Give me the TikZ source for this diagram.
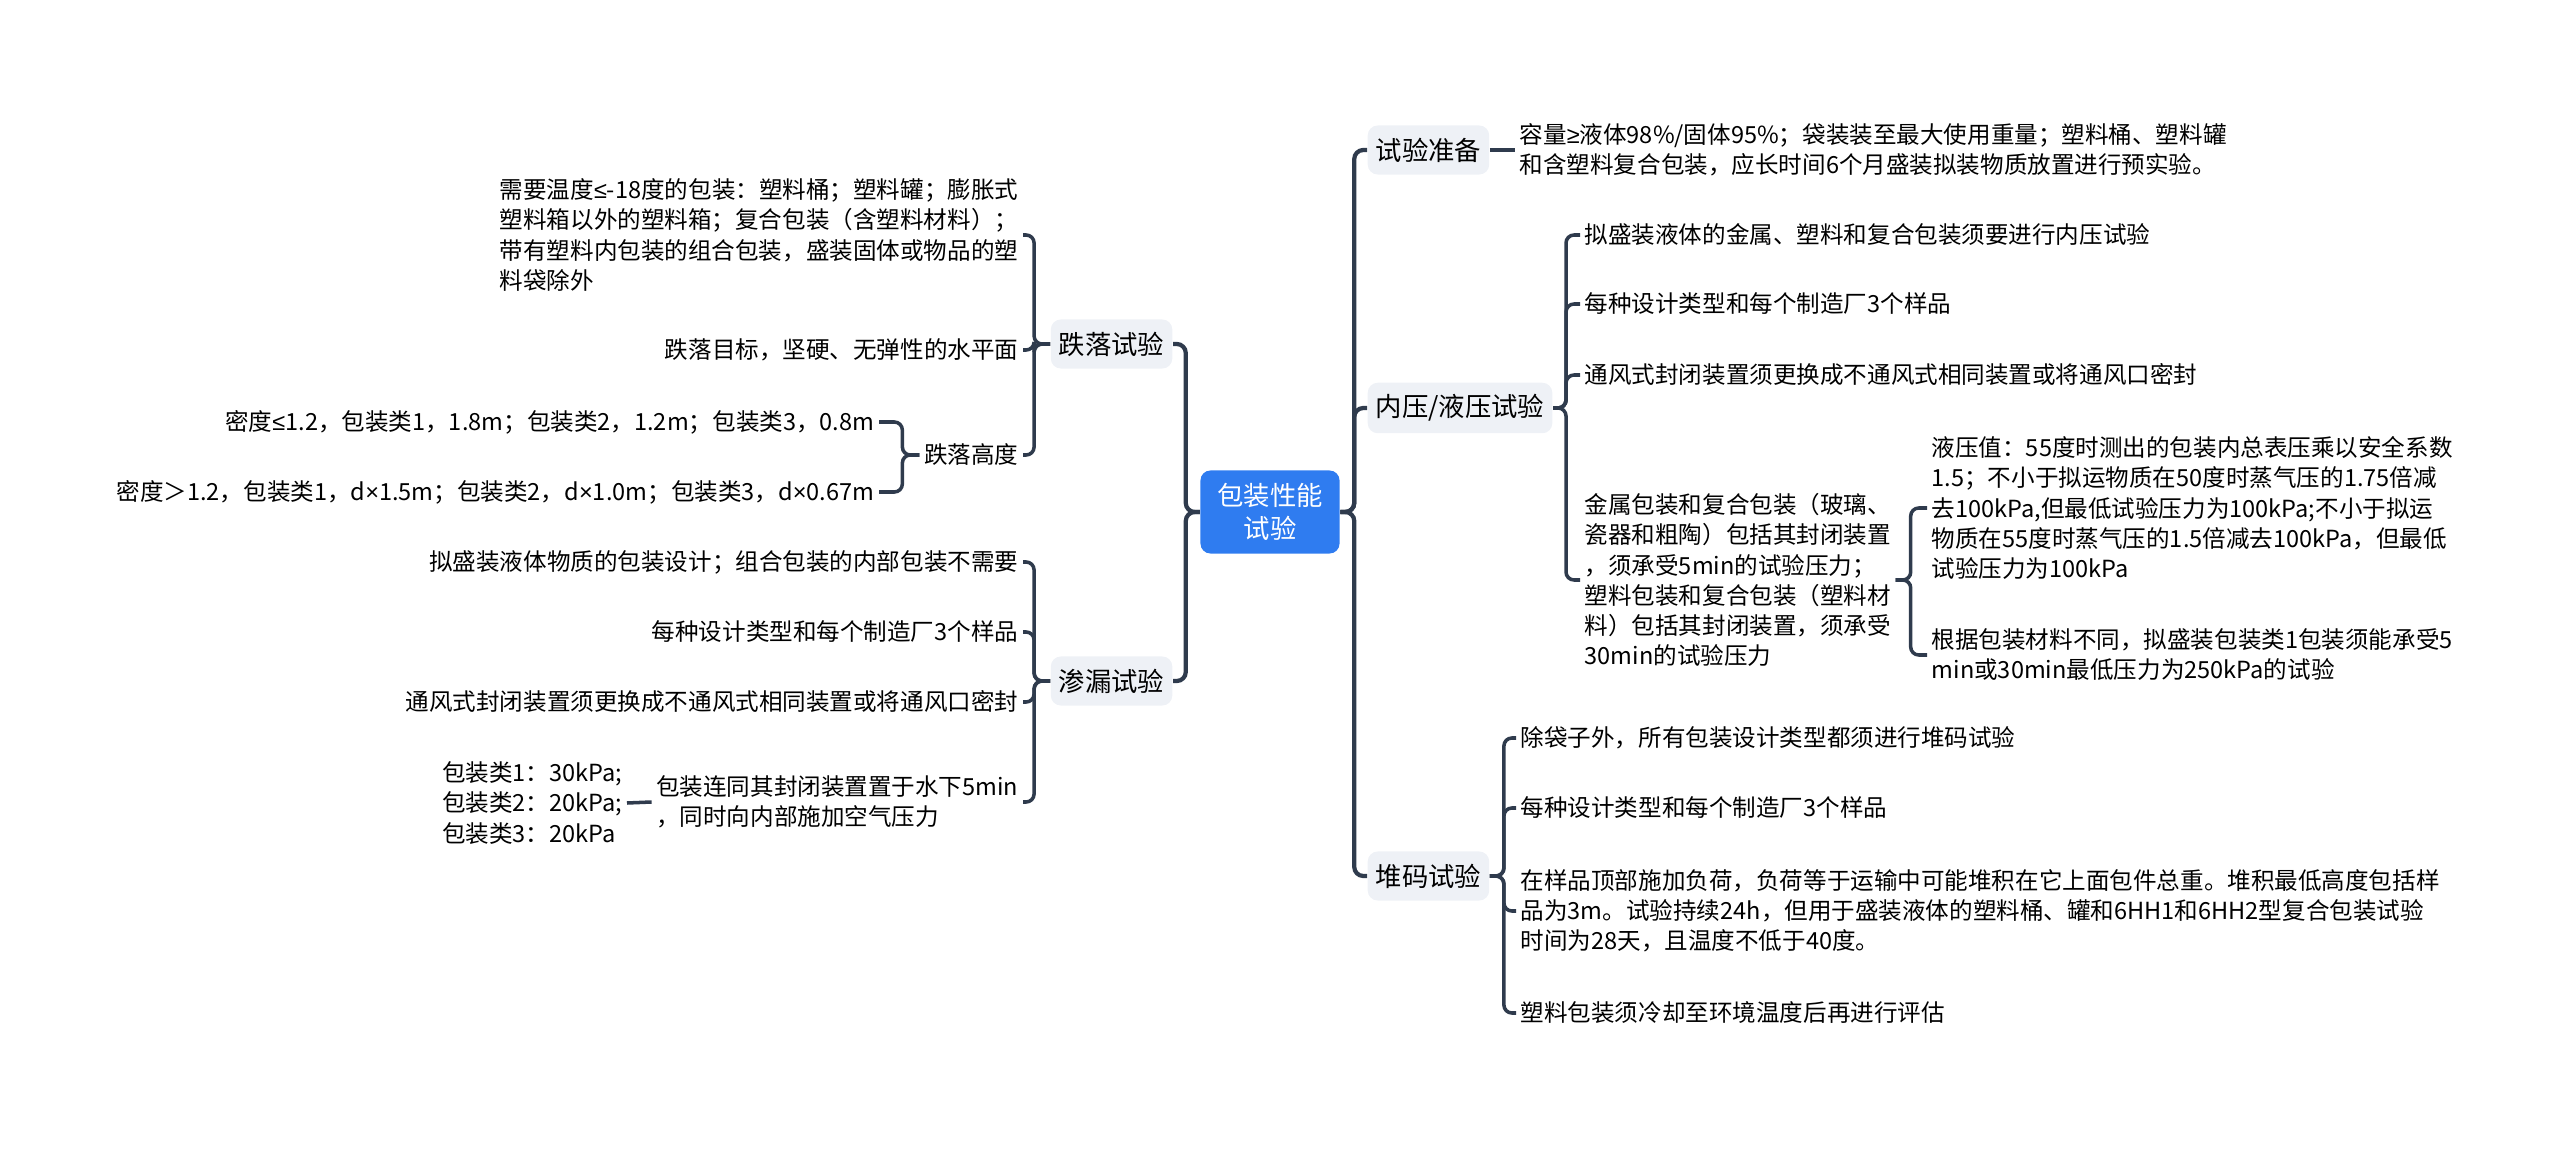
\documentclass[tikz,border=0pt]{standalone}
\usepackage{fontspec}
\setmainfont{Noto Sans CJK SC}
\newfontfamily\symfont{Liberation Sans}
\newcommand{\nsym}[1]{{\symfont #1}}
\usepackage{xcolor}
\usetikzlibrary{positioning}

\definecolor{linecol}{HTML}{2F3B4D}
\definecolor{topicfill}{HTML}{EEF1F6}
\definecolor{rootblue}{HTML}{2F7CF0}

\tikzset{
  root/.style={fill=rootblue, text=white, rounded corners=0.1cm, minimum width=1.39cm, minimum height=0.83cm, align=center, font=\fontsize{7.5pt}{9.4pt}\selectfont},
  topic/.style={fill=topicfill, rounded corners=0.1cm, minimum height=0.49cm, inner xsep=0.08cm, font=\fontsize{7.5pt}{9.4pt}\selectfont},
  leaf/.style={inner xsep=0.04cm, inner ysep=0pt, align=left, font=\fontsize{6.7pt}{8.55pt}\selectfont},
  trunk/.style={draw=linecol, line width=1.2pt, rounded corners=0.09cm},
  link/.style={draw=linecol, line width=1pt, rounded corners=0.08cm},
}

\begin{document}
\begin{tikzpicture}[x=0.01cm, y=-0.01cm]
\useasboundingbox (0,0) rectangle (2560,1149);

\node[root] (root) at (1270,512) {包装性能\\试验};

\node[topic, anchor=west] (prep) at (1367,150) {试验准备};
\node[topic, anchor=west] (press) at (1367,408) {内压/液压试验};
\node[topic, anchor=west] (stack) at (1367,876) {堆码试验};
\node[topic, anchor=east] (drop) at (1173,344) {跌落试验};
\node[topic, anchor=east] (leak) at (1173,681) {渗漏试验};

\node[leaf, anchor=west] (prepT) at (1515,150) {容量\nsym{≥}液体98\%/固体95\%；袋装装至最大使用重量；塑料桶、塑料罐\\和含塑料复合包装，应长时间6个月盛装拟装物质放置进行预实验。};

\node[leaf, anchor=west] (pr1) at (1580,235) {拟盛装液体的金属、塑料和复合包装须要进行内压试验};
\node[leaf, anchor=west] (pr2) at (1580,304) {每种设计类型和每个制造厂3个样品};
\node[leaf, anchor=west] (pr3) at (1580,375) {通风式封闭装置须更换成不通风式相同装置或将通风口密封};
\node[leaf, anchor=west] (pr4) at (1580,580) {金属包装和复合包装（玻璃、\\瓷器和粗陶）包括其封闭装置\\，须承受5min的试验压力；\\塑料包装和复合包装（塑料材\\料）包括其封闭装置，须承受\\30min的试验压力};
\node[leaf, anchor=west] (pr4a) at (1927,508) {液压值：55度时测出的包装内总表压乘以安全系数\\1.5；不小于拟运物质在50度时蒸气压的1.75倍减\\去100kPa,但最低试验压力为100kPa;不小于拟运\\物质在55度时蒸气压的1.5倍减去100kPa，但最低\\试验压力为100kPa};
\node[leaf, anchor=west] (pr4b) at (1927,655) {根据包装材料不同，拟盛装包装类1包装须能承受5\\min或30min最低压力为250kPa的试验};

\node[leaf, anchor=west] (st1) at (1516,738) {除袋子外，所有包装设计类型都须进行堆码试验};
\node[leaf, anchor=west] (st2) at (1516,808) {每种设计类型和每个制造厂3个样品};
\node[leaf, anchor=west] (st3) at (1516,911) {在样品顶部施加负荷，负荷等于运输中可能堆积在它上面包件总重。堆积最低高度包括样\\品为3m。试验持续24h，但用于盛装液体的塑料桶、罐和6HH1和6HH2型复合包装试验\\时间为28天，且温度不低于40度。};
\node[leaf, anchor=west] (st4) at (1516,1013) {塑料包装须冷却至环境温度后再进行评估};

\node[leaf, anchor=east] (dr1) at (1023,235) {需要温度\nsym{≤}-18度的包装：塑料桶；塑料罐；膨胀式\\塑料箱以外的塑料箱；复合包装（含塑料材料）；\\带有塑料内包装的组合包装，盛装固体或物品的塑\\料袋除外};
\node[leaf, anchor=east] (dr2) at (1023,350) {跌落目标，坚硬、无弹性的水平面};
\node[leaf, anchor=east] (drH) at (1023,455) {跌落高度};
\node[leaf, anchor=east] (drH1) at (879,422) {密度\nsym{≤}1.2，包装类1，1.8m；包装类2，1.2m；包装类3，0.8m};
\node[leaf, anchor=east] (drH2) at (879,492) {密度＞1.2，包装类1，d\nsym{×}1.5m；包装类2，d\nsym{×}1.0m；包装类3，d\nsym{×}0.67m};

\node[leaf, anchor=east] (lk1) at (1023,562) {拟盛装液体物质的包装设计；组合包装的内部包装不需要};
\node[leaf, anchor=east] (lk2) at (1023,632) {每种设计类型和每个制造厂3个样品};
\node[leaf, anchor=east] (lk3) at (1023,702) {通风式封闭装置须更换成不通风式相同装置或将通风口密封};
\node[leaf, anchor=east] (lk4) at (1023,802) {包装连同其封闭装置置于水下5min\\，同时向内部施加空气压力};
\node[leaf, anchor=east] (lk4a) at (627,803) {包装类1：30kPa;\\包装类2：20kPa;\\包装类3：20kPa};

\foreach \t in {prep,press,stack} \draw[trunk] (root.east) -- ++(14,0) |- (\t.west);
\foreach \t in {drop,leak} \draw[trunk] (root.west) -- ++(-14,0) |- (\t.east);

\draw[link] (prep.east) -- (prepT.west);
\foreach \c in {pr1,pr2,pr3,pr4} \draw[link] (press.east) -- ++(13,0) |- (\c.west);
\foreach \c in {pr4a,pr4b} \draw[link] (pr4.east) -- ++(15,0) |- (\c.west);
\foreach \c in {st1,st2,st3,st4} \draw[link] (stack.east) -- ++(14,0) |- (\c.west);

\foreach \c in {dr1,dr2,drH} \draw[link] (drop.west) -- ++(-16,0) |- (\c.east);
\foreach \c in {drH1,drH2} \draw[link] (drH.west) -- ++(-17,0) |- (\c.east);
\foreach \c in {lk1,lk2,lk3,lk4} \draw[link] (leak.west) -- ++(-16,0) |- (\c.east);
\draw[link] (lk4.west) -- (lk4a.east);
\end{tikzpicture}
\end{document}
